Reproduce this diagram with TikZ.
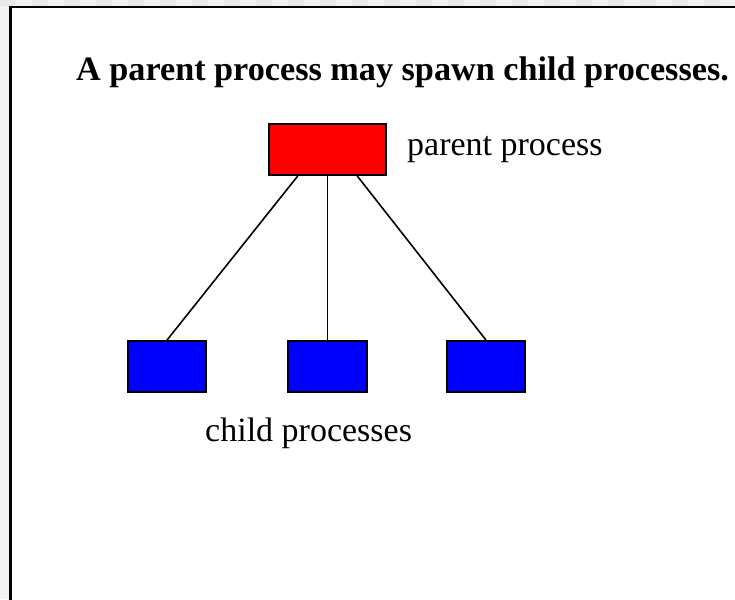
\documentclass[tikz,border=0pt]{standalone}
\usepackage{fontspec}
\setmainfont{Liberation Serif}
\usetikzlibrary{calc}
\begin{document}
\begin{tikzpicture}[x=1pt, y=-1pt,
  proc/.style={draw, line width=1.8pt, minimum height=51pt, inner sep=0pt},
  lbl/.style={anchor=base west, inner sep=0pt, font=\fontsize{34}{40}\selectfont},
  link/.style={line width=1.6pt}]
  \useasboundingbox (0,0) rectangle (735,599);
  % slide frame
  \fill[gray!10] (0,0) rectangle (735,599);
  \foreach \i in {0,2,...,46} \fill[gray!17] (\i*16,0) rectangle ++(16,6);
  \fill[white] (10.5,7) rectangle (736,600);
  \draw[line width=2.5pt] (10.5,600) -- (10.5,7) -- (736,7);

  \node (title) at (76,81) [lbl, font=\bfseries\fontsize{34.2}{40}\selectfont] {A parent process may spawn child processes.};

  \node (parent) at (327.5,149.5) [proc, fill=red, minimum width=117pt] {};
  \node (plabel) at (407,155) [lbl] {parent process};

  \node (c1) at (167,366.5) [proc, fill=blue, minimum width=78.5pt] {};
  \node (c2) at (327.5,366.5) [proc, fill=blue, minimum width=78.5pt] {};
  \node (c3) at (486,366.5) [proc, fill=blue, minimum width=78.5pt] {};
  \node (clabel) at (205,441.5) [lbl] {child processes};

  \draw[link] ($(parent.south)!0.5!(parent.south west)$) -- (c1.north);
  \draw[link] (parent.south) -- (c2.north);
  \draw[link] ($(parent.south)!0.5!(parent.south east)$) -- (c3.north);
\end{tikzpicture}
\end{document}
